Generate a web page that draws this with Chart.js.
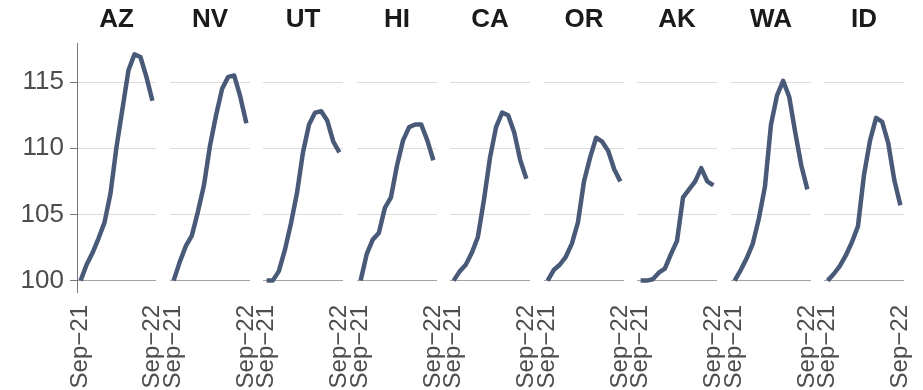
<!DOCTYPE html>
<html>
<head>
<meta charset="utf-8">
<script src="https://cdn.jsdelivr.net/npm/chart.js@4"></script>
<style>
  body { margin: 0; background: #fff; }
  #wrap { position: relative; width: 923px; height: 390px; overflow: hidden; }
  .panel { position: absolute; top: 0; height: 390px; }
</style>
</head>
<body>
<div id="wrap"></div>
<script>
// index values, Sep-21 = 100
const states = ["AZ", "NV", "UT", "HI", "CA", "OR", "AK", "WA", "ID"];
const months = ["Sep-21", "Oct-21", "Nov-21", "Dec-21", "Jan-22", "Feb-22", "Mar-22",
                "Apr-22", "May-22", "Jun-22", "Jul-22", "Aug-22", "Sep-22"];
const xTickLabels = ["Sep\u221221", "Sep\u221222"];
const yTicks = [100, 105, 110, 115];

const valsAZ = [100, 101.2, 102.1, 103.2, 104.4, 106.6, 110.1, 113.0, 115.9, 117.1, 116.9, 115.4, 113.6];
const valsNV = [100, 101.4, 102.6, 103.4, 105.2, 107.2, 110.2, 112.5, 114.5, 115.4, 115.5, 113.9, 111.9];
const valsUT = [100, 100.0, 100.7, 102.3, 104.3, 106.6, 109.7, 111.8, 112.7, 112.8, 112.1, 110.5, 109.7];
const valsHI = [100, 102.0, 103.1, 103.6, 105.5, 106.3, 108.7, 110.6, 111.6, 111.8, 111.8, 110.6, 109.1];
const valsCA = [100, 100.7, 101.2, 102.1, 103.3, 106.1, 109.3, 111.6, 112.7, 112.5, 111.2, 109.1, 107.7];
const valsOR = [100, 100.8, 101.2, 101.8, 102.8, 104.4, 107.5, 109.3, 110.8, 110.5, 109.8, 108.4, 107.5];
const valsAK = [100, 100.0, 100.1, 100.6, 100.9, 102.0, 103.0, 106.3, 106.9, 107.5, 108.5, 107.5, 107.2];
const valsWA = [100, 100.8, 101.7, 102.8, 104.7, 107.1, 111.8, 114.0, 115.1, 113.9, 111.2, 108.7, 106.9];
const valsID = [100, 100.5, 101.1, 101.9, 102.9, 104.1, 108.0, 110.6, 112.3, 112.0, 110.4, 107.6, 105.7];
const series = [valsAZ, valsNV, valsUT, valsHI, valsCA, valsOR, valsAK, valsWA, valsID];

const FONT = "'Liberation Sans', Arial, sans-serif";
const panelLeft = [77, 170, 263, 357, 450, 544, 637, 731, 824];  // plot-area left edges
const panelW = 80;
const axisW = 77;   // width of the shared y axis in the first panel
const gap = 16;     // spare room each side so the rotated labels are not cut

const wrap = document.getElementById("wrap");
const last = months.length - 1;

states.forEach((st, i) => {
  const first = i === 0;
  const leftW = first ? axisW : gap;
  const w = first ? panelW - 1 : panelW;
  const div = document.createElement("div");
  div.className = "panel";
  div.style.left = (panelLeft[i] - leftW) + "px";
  div.style.width = (leftW + w + gap) + "px";
  const cv = document.createElement("canvas");
  div.appendChild(cv);
  wrap.appendChild(div);

  new Chart(cv, {
    type: "line",
    data: {
      datasets: [{
        data: series[i].map((v, k) => ({ x: k, y: v })),
        borderColor: "#485a78",
        borderWidth: 4.5,
        borderJoinStyle: "round",
        pointRadius: 0,
        tension: 0
      }]
    },
    options: {
      responsive: true,
      maintainAspectRatio: false,
      animation: false,
      layout: { padding: { left: 0, right: gap, top: 0, bottom: 0 }, autoPadding: false },
      plugins: {
        legend: { display: false },
        tooltip: { enabled: false },
        title: {
          display: true,
          text: st,
          fullSize: false,
          color: "#1a1a1a",
          font: { family: FONT, size: 26, weight: "bold", lineHeight: 1.2 },
          padding: { top: 4, bottom: 7.8 }
        }
      },
      scales: {
        x: {
          type: "linear",
          min: -0.6,
          max: last + 0.6,
          afterBuildTicks: ax => { ax.ticks = [{ value: 0 }, { value: last }]; },
          afterFit: ax => { ax.height = 98; ax.paddingLeft = 0; ax.paddingRight = 0; },
          grid: { display: false, drawTicks: false },
          border: { display: false },
          ticks: {
            autoSkip: false,
            minRotation: 90,
            maxRotation: 90,
            padding: 13,
            color: "#4d4d4d",
            font: { family: FONT, size: 24 },
            callback: v => v === 0 ? xTickLabels[0] : xTickLabels[1]
          }
        },
        y: {
          min: 99.14,
          max: 117.96,
          afterBuildTicks: ax => { ax.ticks = yTicks.map(v => ({ value: v })); },
          afterFit: ax => { ax.width = leftW; ax.paddingTop = 0; ax.paddingBottom = 0; },
          grid: {
            color: c => c.tick && c.tick.value === 100 ? "#a3a3a3" : "#dcdcdc",
            lineWidth: 1,
            drawTicks: first,
            tickLength: 7,
            tickColor: "#777"
          },
          border: { display: first, color: "#777", width: 1 },
          ticks: { display: first, padding: 6, color: "#4d4d4d", font: { family: FONT, size: 26 } }
        }
      }
    }
  });
});
</script>
</body>
</html>
